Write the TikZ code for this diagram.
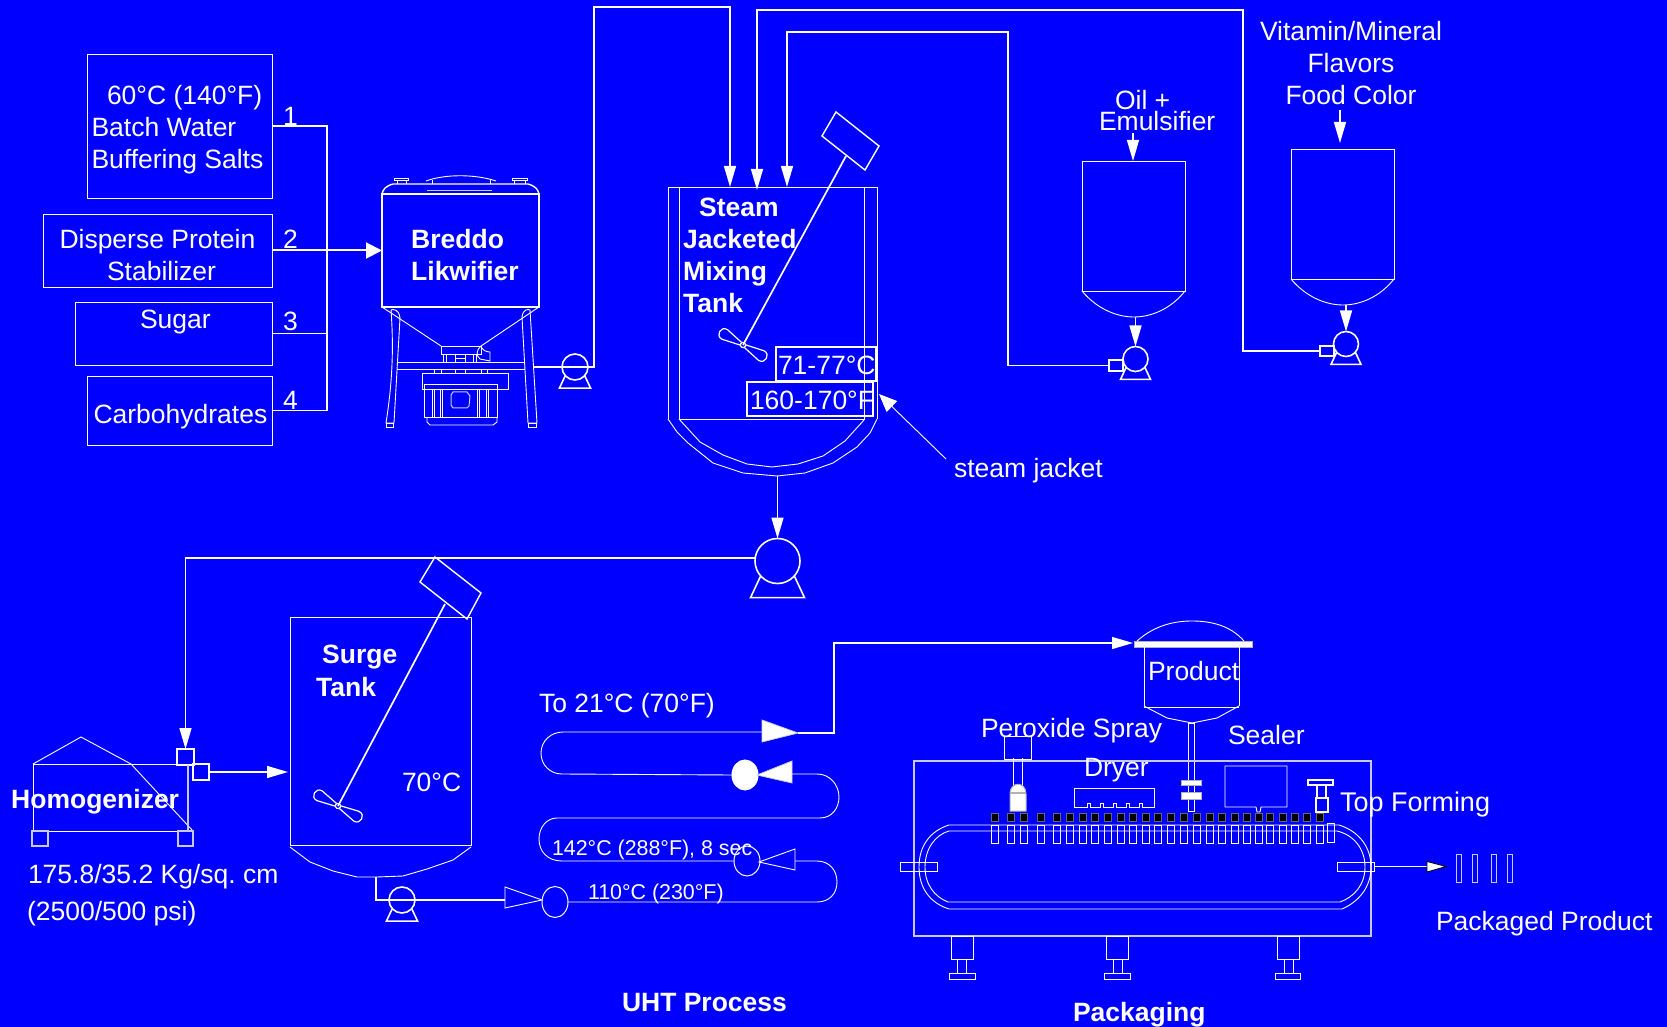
\documentclass[tikz,border=0pt]{standalone}
\usepackage{fontspec}
\setmainfont{Liberation Sans}
\frenchspacing
\usetikzlibrary{arrows.meta,shapes.geometric}
\definecolor{bg}{HTML}{0000FF}
\definecolor{soft}{HTML}{C8C8FF}
\tikzset{
  x=0.5pt,y=-0.5pt,
  thin line/.style={draw=white,line width=0.45pt,line join=miter},
  mid line/.style={draw=white,line width=0.7pt},
  shaft line/.style={draw=white,line width=0.85pt},
  heavy line/.style={draw=white,line width=1pt},
  flow/.style={mid line,-{Triangle[length=10.5pt,width=6pt,fill=white]}},
  bigflow/.style={heavy line,-{Triangle[length=8pt,width=8pt,fill=white]}},
  boxst/.style={draw=white,line width=0.45pt,inner sep=0pt,outer sep=0pt,rectangle},
  solidgrey/.style={draw=white!70!black,line width=0.5pt,fill=white},
  tag/.style={inner sep=0pt,outer sep=0pt,anchor=base west,text=white,yshift=-0.5pt,font=\fontsize{13.25pt}{16pt}\selectfont},
  tagb/.style={tag,xshift=-0.4pt,font=\fontsize{13.25pt}{16pt}\selectfont\bfseries},
  tags/.style={tag,font=\fontsize{10.7pt}{13pt}\selectfont},
  pumpst/.style={circle,draw=white,line width=0.8pt,inner sep=0pt,outer sep=0pt},
  ovalst/.style={ellipse,draw=white,line width=0.5pt,inner sep=0pt,outer sep=0pt},
}
\newcommand\pxbox[6][]{%
  \pgfmathsetmacro\pcx{(#3+#5)/2}\pgfmathsetmacro\pcy{(#4+#6)/2}%
  \node[boxst,minimum width={(#5-#3)*0.5pt},minimum height={(#6-#4)*0.5pt},#1] (#2) at (\pcx,\pcy) {};}
\newcommand\pumpnode[4]{% name x y r
  \node[pumpst,minimum size={2*#4*0.5pt}] (#1) at (#2,#3) {};
  \draw[draw=white,line width=0.8pt,line join=miter] ({#2-0.75*#4},{#3+0.67*#4}) -- ({#2-1.2*#4},{#3+1.63*#4}) -- ({#2+1.2*#4},{#3+1.63*#4}) -- ({#2+0.75*#4},{#3+0.67*#4});}
\newcommand\propeller[3]{% x y rotation
  \begin{scope}[shift={(#1,#2)},rotate=#3]
    \draw[draw=white,line width=0.6pt] (2.5,-1.5) -- (21,-5.5) .. controls (29,-6) and (29,6) .. (21,5.5) -- (2.5,1.5);
    \draw[draw=white,line width=0.6pt] (-2.5,-1.5) -- (-21,-5.5) .. controls (-29,-6) and (-29,6) .. (-21,5.5) -- (-2.5,1.5);
    \draw[draw=white,line width=0.6pt] (0,0) circle[radius=2.6];
  \end{scope}}
\begin{document}
\begin{tikzpicture}
\useasboundingbox (0,0) rectangle (1667,1027);
\fill[bg] (0,0) rectangle (1667,1027);

%%% feed boxes
\pxbox{src1}{87}{54}{272}{198}
\pxbox{src2}{43}{214}{272}{287}
\pxbox{src3}{75}{302}{272}{365}
\pxbox{src4}{87}{376}{272}{445}
\coordinate (busTop) at (327,126);
\coordinate (busBot) at (327,410.5);
\draw[mid line] (src1.east) -- (busTop) -- (busBot) -- (src4.east);
\draw[mid line] (src3.east) -- (327,333.5);

%%% Likwifier
\pxbox[line width=0.8pt]{lik}{382}{194}{539}{307}
\draw[bigflow] (src2.east) -- (lik.west);
\draw[mid line] (382,194) .. controls (383,189) and (386,186) .. (393,184) -- (528,184) .. controls (535,186) and (538,189) .. (539,194);
\draw[thin line] (394,178) rectangle (408,180) (397,180) -- (397,184) (406,180) -- (406,184);
\draw[thin line] (512,178) rectangle (527,180) (514,180) -- (514,184) (525,180) -- (525,184);
\draw[thin line] (426,181) .. controls (445,174) and (475,174) .. (496,181);
\draw[thin line] (432,180) -- (432,184) (490,180) -- (490,184);
\draw[draw=soft,line width=0.5pt] (427,191) -- (492,191);
\draw[thin line] (382,307) -- (441,346) (539,307) -- (481,346);
\draw[thin line] (391,310) .. controls (393,309) and (399,309) .. (400,318) -- (394,423) -- (386,423) .. controls (392,385) and (394,350) .. (391,310);
\draw[thin line] (522,317) .. controls (523,309) and (528,309) .. (530,310) -- (537,423) -- (528,423) -- (522,317);
\draw[thin line] (386,423) rectangle (393,427) (528,423) rectangle (536,427);
\draw[thin line] (397,362) -- (525,362) (397,369) -- (525,369);
\draw[thin line] (441,346) rectangle (481,354) (443,354) rectangle (476,362);
\draw[thin line] (446,354) -- (446,362) (455,354) -- (455,362) (465,354) -- (465,362) (473,354) -- (473,362) (455,358) -- (465,358);
\draw[thin line] (481,346) .. controls (476,350) and (476,356) .. (480,359) -- (490,361) -- (490,352) .. controls (486,352) and (483,350) .. (482,348);
\draw[thin line] (434,369) rectangle (441,373) (455,369) rectangle (465,373) (481,369) rectangle (487,373);
\draw[thin line] (422,373) rectangle (508,389);
\draw[thin line] (424,384) rectangle (497,417);
\draw[thin line] (432,389) -- (432,417) (434,389) -- (434,417) (440,389) -- (440,417) (442,389) -- (442,417) (477,389) -- (477,417) (479,389) -- (479,417) (486,389) -- (486,417) (488,389) -- (488,417);
\draw[thin line] (427,417) -- (427,422) -- (430,425) -- (493,425) -- (497,422) -- (497,417);
\draw[draw=soft,line width=0.5pt] (451,395) -- (453,392) -- (467,392) -- (470,396) -- (469,406) -- (467,408) -- (453,408) -- (451,405) -- cycle;

%%% transfer to mixing tank
\pumpnode{lpump}{575}{367}{13}
\coordinate (likOut) at (533,367);
\coordinate (topA) at (594,7);
\coordinate (mixA) at (730,187);
\draw[flow] (likOut) -- (lpump.center) -- (594,367) -- (topA) -| (mixA);

%%% mixing tank
\draw[thin line] (668,419) -- (668,187) -- (877,187) -- (877,419);
\draw[thin line] (679,187) -- (679,419) -- (864,419) -- (864,187);
\draw[thin line] (679,419) -- (700,442) -- (723,455) -- (747,464) -- (772,467) -- (798,464) -- (823,456) -- (845,441) -- (864,420);
\draw[thin line] (668,419) -- (677,432) -- (688,443) -- (713,463) -- (743,473) -- (777,476) -- (805,473) -- (833,463) -- (857,447) -- (870,433) -- (877,419);
\draw[mid line] (836,112) -- (879,146) -- (865,170) -- (822,136) -- cycle;
\coordinate (mixShaft) at (846,156);
\coordinate (mixPivot) at (743,345);
\draw[shaft line] (mixShaft) -- (mixPivot);
\propeller{743}{345}{-30}
\pxbox[line width=0.8pt]{tempC}{776}{347}{876}{381}
\pxbox[line width=0.8pt]{tempF}{747}{382}{873}{416}

%%% oil tank
\draw[thin line] (1082,161) rectangle (1185,291);
\draw[thin line] (1082,291) .. controls (1098,310) and (1118,317) .. (1134,317) .. controls (1150,317) and (1170,310) .. (1185,291);
\coordinate (oilFeed) at (1133,133);
\coordinate (oilTop) at (1133,161);
\draw[flow] (oilFeed) -- (oilTop);
\pumpnode{opump}{1135.5}{359}{12.5}
\coordinate (oilBot) at (1135.5,317);
\draw[flow] (oilBot) -- (opump.north);
\pxbox[line width=0.7pt]{ostub}{1109}{360}{1123}{371}
\coordinate (oilUp) at (1008,32);
\coordinate (mixC) at (787,187);
\draw[flow] (ostub.west) -| (oilUp) -| (mixC);

%%% vitamin tank
\draw[thin line] (1291,149) rectangle (1394,279);
\draw[thin line] (1291,279) .. controls (1307,298) and (1327,305) .. (1343,305) .. controls (1359,305) and (1379,298) .. (1394,279);
\coordinate (vitFeed) at (1340,110);
\coordinate (vitTop) at (1340,143);
\draw[flow] (vitFeed) -- (vitTop);
\pumpnode{vpump}{1346}{344}{12.5}
\coordinate (vitBot) at (1346,305);
\draw[flow] (vitBot) -- (vpump.north);
\pxbox[line width=0.7pt]{vstub}{1320}{346}{1334}{356}
\coordinate (vitUp) at (1243,10);
\coordinate (mixB) at (757,190);
\draw[flow] (vstub.west) -| (vitUp) -| (mixB);

%%% steam jacket arrow
\coordinate (jacketFrom) at (946,459);
\coordinate (jacketTip) at (879,394);
\draw[thin line,-{Triangle[length=9pt,width=7.5pt,fill=white]}] (jacketFrom) -- (jacketTip);

%%% main transfer pump
\pumpnode{mpump}{777.5}{561}{22.5}
\coordinate (mixOut) at (777.5,476);
\draw[flow] (mixOut) -- (mpump.north);
\pxbox[line width=0.8pt]{sqA}{177}{749}{194}{765}
\pxbox[line width=0.7pt]{sqB}{193}{764}{209}{780}
\draw[flow] (mpump.172) -| (sqA.north);
\coordinate (surgeIn) at (288,772);
\draw[flow] (sqB.east) -- (surgeIn);

%%% homogenizer
\draw[thin line] (33,764) -- (81,737) -- (131,764) -- (193,831);
\draw[thin line] (33,764) -- (177,764);
\draw[thin line] (33,764) -- (33,831) -- (193,831);
\draw[draw=soft,line width=0.6pt] (188,765) -- (188,831);
\draw[draw=soft,line width=0.6pt] (32,831) rectangle (48,846);
\draw[draw=soft,line width=0.6pt] (178,831) rectangle (193,846);

%%% surge tank
\pxbox{surge}{290}{617}{471}{845}
\draw[thin line] (290,847) -- (310,862) -- (333,871) -- (357,877) -- (377,877) -- (403,876) -- (427,869) -- (453,860) -- (471,847);
\draw[mid line] (435,557) -- (481,593) -- (467,619) -- (420,582) -- cycle;
\coordinate (surgeShaft) at (445,604);
\coordinate (surgePivot) at (338,806);
\draw[shaft line] (surgeShaft) -- (surgePivot);
\propeller{338}{806}{-29}

%%% UHT coil
\pumpnode{spump}{402}{900}{13}
\node[ovalst,minimum width=13pt,minimum height=15.5pt] (oval1) at (555,902) {};
\node[ovalst,minimum width=13pt,minimum height=15pt] (oval2) at (747,861) {};
\node[ovalst,minimum width=13pt,minimum height=15pt,fill=white] (oval3) at (745,775) {};
\coordinate (surgeBot) at (376,877);
\draw[mid line] (surgeBot) -- (376,900) -- (spump.center) -- (505,900);
\draw[thin line,fill=bg] (505,887) -- (542,900) -- (505,908) -- cycle;
\draw[thin line] (oval1.east) -- (817,902) .. controls (829,902) and (837,894) .. (837,882) .. controls (837,870) and (829,861) .. (817,861) -- (795,861);
\draw[thin line,fill=bg] (795,849) -- (795,870) -- (759,862) -- cycle;
\draw[thin line] (oval2.west) -- (562,861) .. controls (548,861) and (539,852) .. (539,839) .. controls (539,827) and (547,818) .. (557,818) -- (820,818) .. controls (832,818) and (839,808) .. (839,797) .. controls (839,785) and (830,774) .. (817,774) -- (792,774);
\draw[draw=white!80!black,line width=0.4pt,fill=white] (792,761) -- (792,783) -- (757,775) -- cycle;
\draw[thin line] (oval3.west) -- (562,774) .. controls (550,774) and (541,765) .. (541,753) .. controls (541,741) and (551,732) .. (563,732) -- (762,732);
\draw[draw=white!80!black,line width=0.4pt,fill=white] (762,720) -- (762,742) -- (798,733) -- cycle;
\coordinate (coilOut) at (798,733);
\coordinate (coilUp) at (834,643);
\coordinate (prodIn) at (1133,643);
\draw[flow] (coilOut) -- (834,733) -- (coilUp) -- (prodIn);

%%% product tank
\pxbox[draw=white!70!black,fill=white,line width=0.5pt]{prodBar}{1134}{641}{1252}{647}
\draw[thin line] (1137,641) .. controls (1155,625) and (1175,621) .. (1192,621) .. controls (1210,621) and (1230,625) .. (1244,641);
\draw[thin line] (1144,647) -- (1144,706) (1239,647) -- (1239,706);
\draw[thin line] (1144,707) -- (1239,707);
\draw[thin line] (1144,706) -- (1167,718) -- (1192,723) -- (1217,718) -- (1239,706);
\draw[thin line] (1188,723) rectangle (1194,811);
\pxbox[draw=white!70!black,fill=white,line width=0.5pt]{clampA}{1181}{780}{1201}{785}
\pxbox[draw=white!70!black,fill=white,line width=0.5pt]{clampB}{1181}{792}{1201}{799}

%%% packaging frame
\pxbox[draw=soft,line width=0.6pt]{frame}{914}{761}{1371}{936}
\draw[thin line] (1004,736) rectangle (1031,759);
\draw[thin line] (1013,758) -- (1013,786) (1022,758) -- (1022,786);
\draw[solidgrey] (1010,811) -- (1010,794) .. controls (1010,781) and (1026,781) .. (1026,794) -- (1026,811) -- cycle;
\draw[draw=white!70!black,line width=0.7pt] (1010,793) -- (1026,793);
\draw[thin line] (1074,803) -- (1074,788) -- (1154,788) -- (1154,807) -- (1142,807) -- (1142,803) -- (1139,803) -- (1139,807) -- (1129,807) -- (1129,803) -- (1126,803) -- (1126,807) -- (1116,807) -- (1116,803) -- (1113,803) -- (1113,807) -- (1103,807) -- (1103,803) -- (1100,803) -- (1100,807) -- (1090,807) -- (1090,803) -- (1087,803) -- (1087,807) -- (1074,807) -- (1074,803);
\draw[thin line] (1225,807) -- (1225,766) -- (1287,766) -- (1287,807) -- (1261,807) -- (1260,812) -- (1257,812) -- (1256,807) -- cycle;
\draw[mid line] (1308,780) rectangle (1333,785);
\draw[mid line] (1317,785) -- (1317,798) (1326,785) -- (1326,798);
\draw[mid line] (1316,798) rectangle (1328,812);
\foreach \v [count=\i] in {995,1010.7,1024.3,1041.3,1057,1070,1083,1095.3,1107.7,1121,1133,1145.7,1158,1171,1184.3,1196.7,1210,1222,1234.7,1246.7,1258.7,1270.3,1282.7,1295,1307,1320.3}{
  \draw[draw=black!60,line width=0.4pt,fill=black] ({\v-3.5},813) rectangle ({\v+3.5},821);
  \draw[thin line] ({\v-3.5},825) rectangle ({\v+3.5},843);
}
\draw[thin line] (1327,823) rectangle (1334,842);
\draw[thin line] (949,825) -- (1339,825) .. controls (1358,831) and (1371,846) .. (1371,867) .. controls (1371,888) and (1358,902) .. (1342,909) -- (949,909) .. controls (930,903) and (919,888) .. (919,867) .. controls (919,846) and (930,831) .. (949,825);
\draw[thin line] (949,831) -- (1337,831) .. controls (1354,835) and (1365,849) .. (1365,867) .. controls (1365,885) and (1354,897) .. (1340,902) -- (948,902) .. controls (935,897) and (925,885) .. (925,867) .. controls (925,849) and (935,835) .. (949,831);
\pxbox{endL}{900}{862}{937}{871}
\pxbox{endR}{1337}{862}{1374}{871}
\coordinate (outTip) at (1446,866.5);
\draw[thin line] (endR.east) -- (1427,866.5);
\draw[draw=black,line width=0.4pt,fill=white] (1427,861.5) -- (1446,866.5) -- (1427,872) -- cycle;
\foreach \a/\b in {1456/1461,1472/1477,1491/1496,1507/1512}{\draw[draw=soft,line width=0.5pt] (\a,854) rectangle (\b,882);}
\foreach \a/\b/\c/\d/\e/\f in {951/973/957/966/949/975,1106.5/1128.6/1113/1122/1104.5/1130,1277/1299/1284/1293/1275/1300}{
  \draw[thin line] (\a,936) rectangle (\b,959);
  \draw[thin line] (\c,959) rectangle (\d,973);
  \draw[thin line] (\e,973) rectangle (\f,979);
}

%%% text
\node[tag] (t1a) at (107,104) {60°C (140°F)};
\node[tag] (t1b) at (91.5,136) {Batch Water};
\node[tag] (t1c) at (91.5,168) {Buffering Salts};
\node[tag] (t2a) at (59.5,248) {Disperse Protein};
\node[tag] (t2b) at (107,280) {Stabilizer};
\node[tag] (t3a) at (140,328) {Sugar};
\node[tag] (t4a) at (93.5,422) {Carbohydrates};
\node[tag] (n1) at (283,125) {1};
\node[tag] (n2) at (283,248) {2};
\node[tag] (n3) at (283,330) {3};
\node[tag] (n4) at (283,408) {4};
\node[tagb] (bA) at (412,248) {Breddo};
\node[tagb] (bB) at (412,280) {Likwifier};
\node[tagb] (mA) at (700,216) {Steam};
\node[tagb] (mB) at (684,248) {Jacketed};
\node[tagb] (mC) at (684,280) {Mixing};
\node[tagb] (mD) at (684,312) {Tank};
\node[tag] (tC) at (778,374) {71-77°C};
\node[tag] (tF) at (750,408) {160-170°F};
\node[tag] (sj) at (954,477) {steam jacket};
\node[tag] (oA) at (1115,109) {Oil +};
\node[tag] (oB) at (1099,130) {Emulsifier};
\node[tag] (vA) at (1260,40) {Vitamin/Mineral};
\node[tag] (vB) at (1307.5,72) {Flavors};
\node[tag] (vC) at (1285.5,104) {Food Color};
\node[tagb] (sA) at (323,662) {Surge};
\node[tagb] (sB) at (317,695) {Tank};
\node[tag] (sT) at (402,790) {70°C};
\node[tagb] (hA) at (12,807) {Homogenizer};
\node[tag] (hB) at (28,882) {175.8/35.2 Kg/sq. cm};
\node[tag] (hC) at (27,919) {(2500/500 psi)};
\node[tag] (c1) at (539,711) {To 21°C (70°F)};
\node[tags] (c2) at (552,854) {142°C (288°F), 8 sec};
\node[tags] (c3) at (588,898) {110°C (230°F)};
\node[tag] (pA) at (981,736) {Peroxide Spray};
\node[tag] (pB) at (1084,775) {Dryer};
\node[tag] (pC) at (1228,743) {Sealer};
\node[tag] (pD) at (1148,679) {Product};
\node[tag,font=\fontsize{13.5pt}{16pt}\selectfont] (pE) at (1340,810) {Top Forming};
\node[tag] (pF) at (1436,929) {Packaged Product};
\node[tagb,xshift=0.4pt] (uht) at (622,1010) {UHT Process};
\node[tagb,xshift=0.4pt] (pack) at (1073,1020) {Packaging};
\end{tikzpicture}
\end{document}
